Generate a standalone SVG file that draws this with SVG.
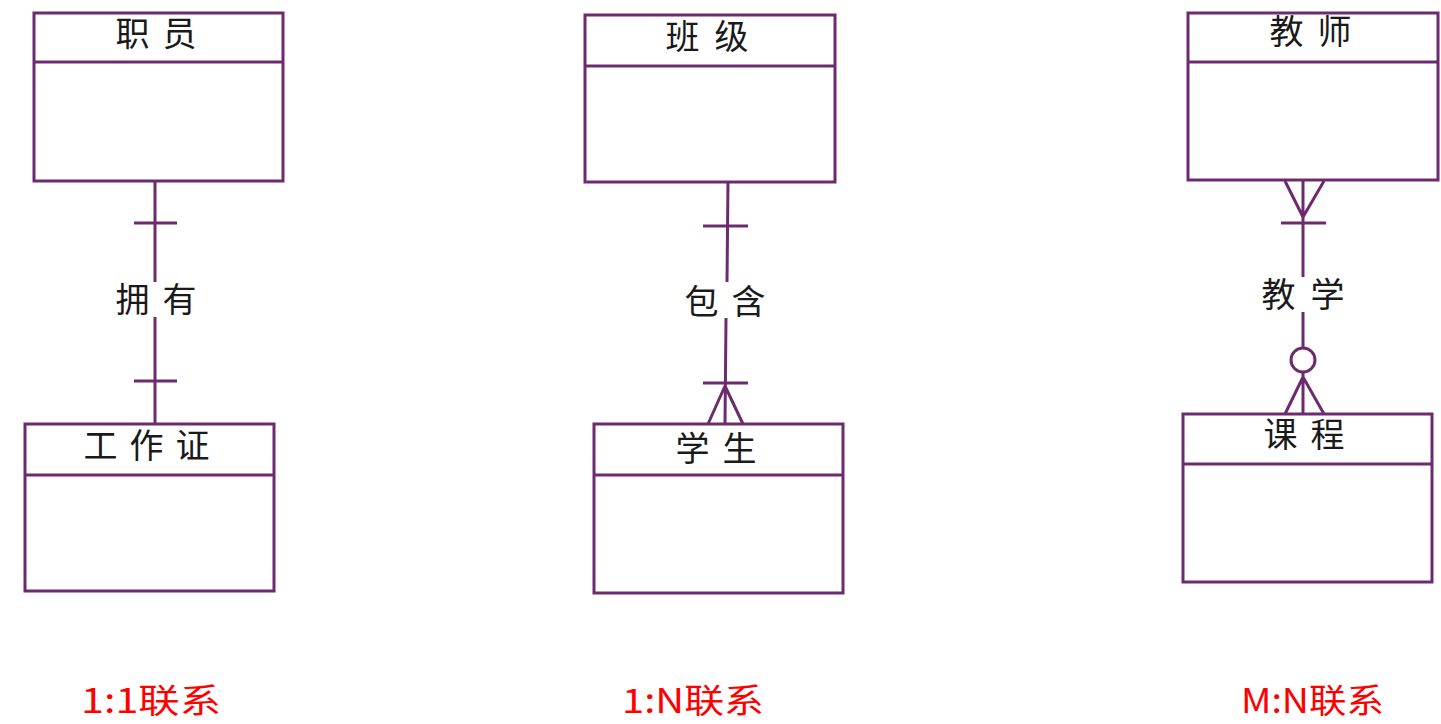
<svg xmlns="http://www.w3.org/2000/svg" width="1441" height="724" viewBox="0 0 1441 724">
<style>
.box{fill:#fff;stroke:#6c2b6f;stroke-width:3}
.ln{fill:none;stroke:#6c2b6f;stroke-width:3}
.t{font-family:"Noto Sans CJK SC","Liberation Sans",sans-serif;font-size:34px;fill:#1a1a1a}
.r{font-family:"Noto Sans CJK SC","Liberation Sans",sans-serif;font-size:34px;fill:#ff0000}
</style>
<rect width="1441" height="724" fill="#fff"/>
<g id="connectors">
  <g id="c-11">
    <path class="ln" d="M155 181V282M155 317V424M134 223H177M134 381H177"/>
    <text class="t" x="115.5" y="312" textLength="81" lengthAdjust="spacing">拥有</text>
  </g>
  <g id="c-1n">
    <path class="ln" d="M728 182L727 282M726 318L725 424M703 226H748M703 383H748M725 386L708 424M725 386L743 424"/>
    <text class="t" x="684.5" y="314" textLength="81" lengthAdjust="spacing">包含</text>
  </g>
  <g id="c-mn">
    <path class="ln" d="M1303 181V277M1303 312V348M1303 372V414M1285 181L1303 217L1324 181M1281 223H1326M1285 414L1303 377L1324 414"/>
    <circle class="ln" cx="1303" cy="360" r="12"/>
    <text class="t" x="1261.5" y="307" textLength="83" lengthAdjust="spacing">教学</text>
  </g>
</g>
<g id="n-zhiyuan">
  <rect class="box" x="34" y="13" width="249" height="168"/>
  <line class="ln" x1="34" y1="62" x2="283" y2="62"/>
  <text class="t" x="115.5" y="46" textLength="81" lengthAdjust="spacing">职员</text>
</g>
<g id="n-gongzuozheng">
  <rect class="box" x="25" y="424" width="249" height="167"/>
  <line class="ln" x1="25" y1="475" x2="274" y2="475"/>
  <text class="t" x="83.5" y="458" textLength="126" lengthAdjust="spacing">工作证</text>
</g>
<g id="n-banji">
  <rect class="box" x="585" y="15" width="250" height="167"/>
  <line class="ln" x1="585" y1="66" x2="835" y2="66"/>
  <text class="t" x="665.5" y="49" textLength="83" lengthAdjust="spacing">班级</text>
</g>
<g id="n-xuesheng">
  <rect class="box" x="594" y="424" width="249" height="169"/>
  <line class="ln" x1="594" y1="475" x2="843" y2="475"/>
  <text class="t" x="675.5" y="461" textLength="81" lengthAdjust="spacing">学生</text>
</g>
<g id="n-jiaoshi">
  <rect class="box" x="1188" y="13" width="250" height="167"/>
  <line class="ln" x1="1188" y1="62" x2="1438" y2="62"/>
  <text class="t" x="1269.5" y="44" textLength="82" lengthAdjust="spacing">教师</text>
</g>
<g id="n-kecheng">
  <rect class="box" x="1183" y="414" width="249" height="168"/>
  <line class="ln" x1="1183" y1="464" x2="1432" y2="464"/>
  <text class="t" x="1263.5" y="447" textLength="81" lengthAdjust="spacing">课程</text>
</g>
<g id="captions">
  <text class="r" x="81" y="713" textLength="140" lengthAdjust="spacingAndGlyphs">1:1联系</text>
  <text class="r" x="622" y="713" textLength="142" lengthAdjust="spacingAndGlyphs">1:N联系</text>
  <text class="r" x="1241" y="713" textLength="143" lengthAdjust="spacingAndGlyphs">M:N联系</text>
</g>
</svg>
